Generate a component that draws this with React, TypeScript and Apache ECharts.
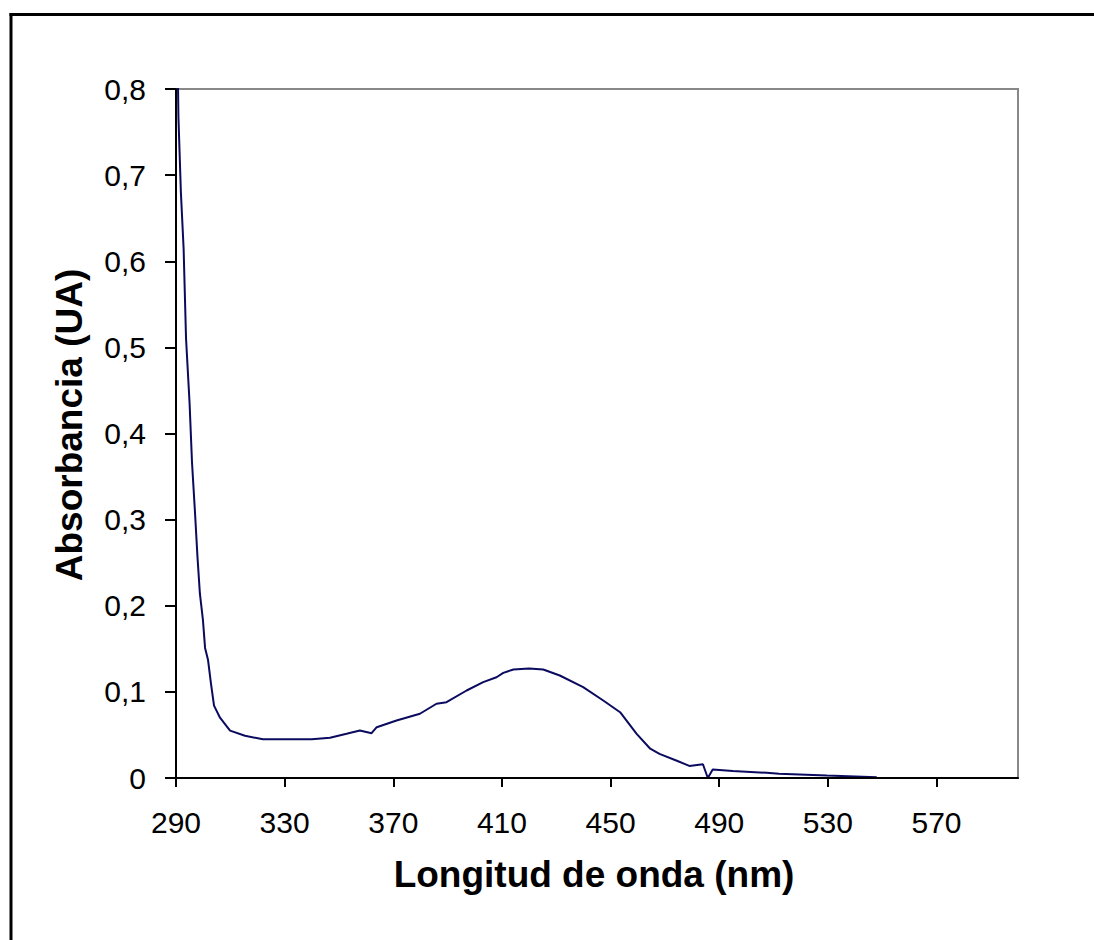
import React, { useEffect, useRef } from "react";
import * as echarts from "echarts";

const wavelength = [
  290, 290.3, 290.9, 291.8, 292.8, 293.7, 295.0, 295.9, 297.0, 297.9, 298.8,
  299.9, 300.7, 301.8, 302.9, 304.0, 306.2, 309.9, 315.4, 322, 330, 340, 346.7,
  352.8, 357.7, 362, 363.9, 371.2, 379.8, 385.9, 389.6, 397, 403.1, 408, 410.5,
  414.2, 420, 425.2, 431.3, 439.9, 447.3, 453.5, 459.6, 464.6, 468, 474.4, 479,
  484, 485.8, 487.6, 495, 507.5, 512, 529.6, 548,
];
const absorbance = [
  0.95, 0.9, 0.767, 0.68, 0.615, 0.51, 0.435, 0.366, 0.308, 0.257, 0.214,
  0.184, 0.151, 0.137, 0.109, 0.084, 0.07, 0.055, 0.049, 0.045, 0.045, 0.045,
  0.0467, 0.0513, 0.0552, 0.052, 0.059, 0.0668, 0.0746, 0.0862, 0.088, 0.1016,
  0.1113, 0.117, 0.122, 0.126, 0.127, 0.126, 0.119, 0.1055, 0.09, 0.0764,
  0.0513, 0.034, 0.028, 0.02, 0.014, 0.016, 0.0, 0.01, 0.008, 0.006, 0.005,
  0.003, 0.001,
];
const xTickValues = [290, 330, 370, 410, 450, 490, 530, 570];
const xTitle = "Longitud de onda (nm)";
const yTitle = "Absorbancia (UA)";

const FONT = '"Liberation Sans", Arial, sans-serif';

export default function App() {
  const ref = useRef<HTMLDivElement>(null);
  useEffect(() => {
    if (!ref.current) return;
    const chart = echarts.init(ref.current, null, { renderer: "svg" });
    const data = wavelength.map((w, i) => [w, absorbance[i]]);
    chart.setOption({
      animation: false,
      backgroundColor: "#ffffff",
      grid: {
        left: 176,
        top: 89,
        right: 76,
        bottom: 162,
        show: true,
        borderColor: "#888888",
        borderWidth: 2,
        backgroundColor: "#ffffff",
      },
      xAxis: {
        type: "value",
        min: 290,
        max: 600,
        axisLine: { show: true, onZero: false, lineStyle: { color: "#000", width: 2 } },
        axisTick: {
          show: true,
          length: 9,
          lineStyle: { color: "#000", width: 2 },
          customValues: xTickValues,
        },
        axisLabel: {
          show: true,
          customValues: xTickValues,
          margin: 29,
          color: "#000",
          fontFamily: FONT,
          fontSize: 30,
        },
        splitLine: { show: false },
        z: 5,
      },
      yAxis: {
        type: "value",
        min: 0,
        max: 0.8,
        interval: 0.1,
        axisLine: { show: true, lineStyle: { color: "#000", width: 2 } },
        axisTick: { show: true, length: 11, lineStyle: { color: "#000", width: 2 } },
        axisLabel: {
          margin: 30,
          color: "#000",
          fontFamily: FONT,
          fontSize: 30,
          formatter: (v: number) => (v === 0 ? "0" : v.toFixed(1).replace(".", ",")),
        },
        splitLine: { show: false },
        z: 5,
      },
      series: [
        {
          type: "line",
          data,
          showSymbol: false,
          symbol: "none",
          clip: true,
          lineStyle: { color: "#0a0a5e", width: 2 },
          z: 3,
        },
      ],
      graphic: [
        {
          type: "line",
          shape: { x1: 9.5, y1: 14.5, x2: 1100, y2: 14.5 },
          style: { stroke: "#000", lineWidth: 3 },
          silent: true,
          z: 10,
        },
        {
          type: "line",
          shape: { x1: 11, y1: 13, x2: 11, y2: 945 },
          style: { stroke: "#000", lineWidth: 3 },
          silent: true,
          z: 10,
        },
        {
          type: "text",
          x: 594,
          y: 874,
          style: {
            text: xTitle,
            fill: "#000",
            font: `bold 37px ${FONT}`,
            textAlign: "center",
            textVerticalAlign: "middle",
          },
          z: 10,
        },
        {
          type: "text",
          x: 69,
          y: 425,
          rotation: Math.PI / 2,
          style: {
            text: yTitle,
            fill: "#000",
            font: `bold 37px ${FONT}`,
            textAlign: "center",
            textVerticalAlign: "middle",
          },
          z: 10,
        },
      ],
    });
    return () => chart.dispose();
  }, []);
  return (
    <div
      ref={ref}
      style={{
        position: "absolute",
        left: 0,
        top: 0,
        width: 1094,
        height: 940,
        overflow: "hidden",
        background: "#fff",
      }}
    />
  );
}
